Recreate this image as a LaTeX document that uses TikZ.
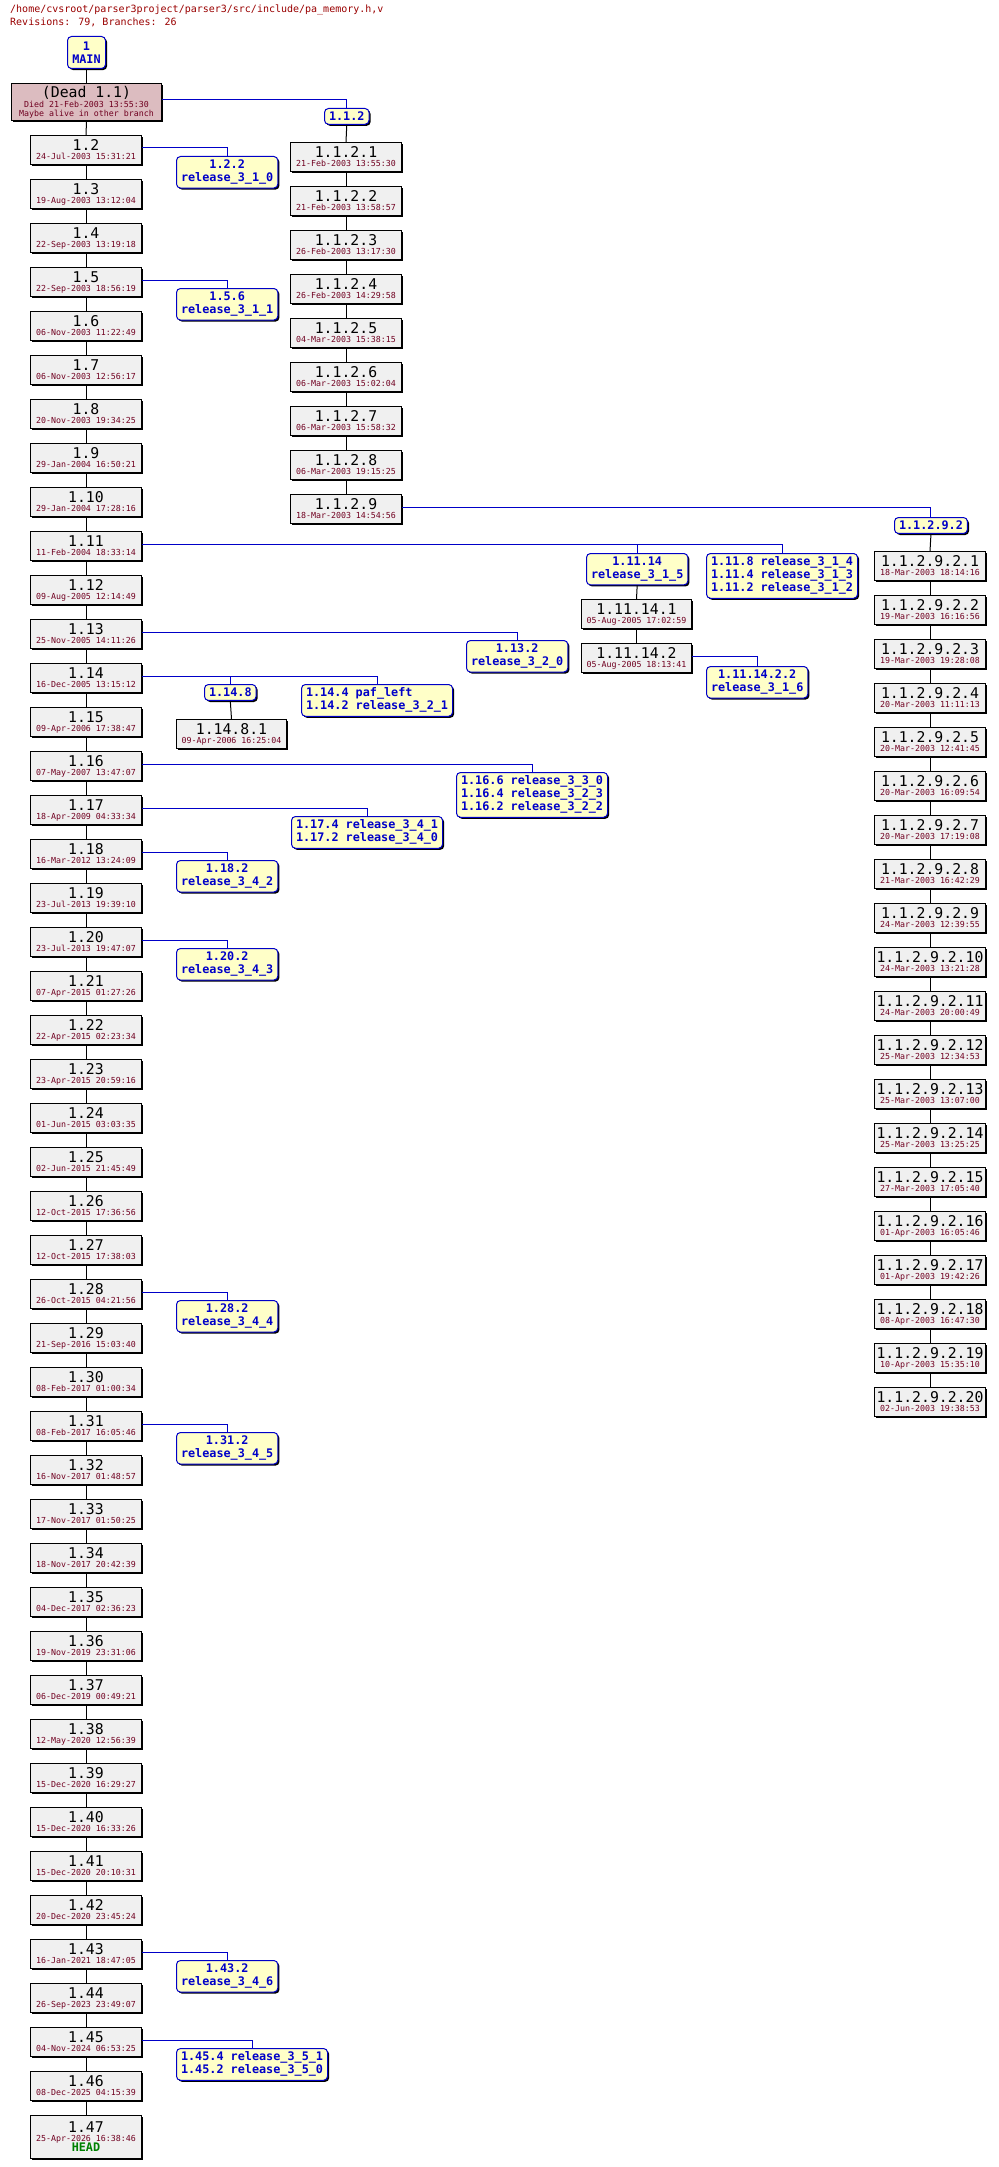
\documentclass[tikz,border=0pt]{standalone}
\usepackage{fontspec}
\setmainfont{DejaVu Sans Mono}
\usetikzlibrary{shadows}
\definecolor{datecol}{RGB}{112,0,32}
\definecolor{tagblue}{RGB}{0,0,200}
\definecolor{tagfill}{RGB}{255,255,200}
\definecolor{boxfill}{RGB}{240,240,240}
\definecolor{deadfill}{RGB}{220,188,192}
\definecolor{titlecol}{RGB}{153,0,0}
\definecolor{headcol}{RGB}{0,128,0}
\newcommand{\rnum}[1]{{\fontsize{14.8}{14}\selectfont #1}}
\newcommand{\rdate}[1]{{\fontsize{8.3}{9}\selectfont\color{datecol}#1}}
\tikzset{
  shd/.style={drop shadow={shadow xshift=1.6pt,shadow yshift=-1.6pt,fill=black,opacity=1}},
  revbox/.style={shd,draw=black,line width=1pt,fill=boxfill,minimum width=111pt,minimum height=29pt,inner sep=0pt,align=center,anchor=north west},
  tagbox/.style={shd,draw=tagblue,line width=1pt,fill=tagfill,text=tagblue,rounded corners=4pt,inner xsep=4.5pt,inner ysep=3.5pt,anchor=north west,align=center,font=\fontsize{11.8}{13}\selectfont\bfseries},
  tagleft/.style={tagbox,align=left},
  conn/.style={line width=1pt,draw=black},
  brl/.style={line width=1pt,draw=tagblue},
}
\begin{document}
\begin{tikzpicture}[x=1pt,y=-1pt]
\useasboundingbox (0,0) rectangle (998,2167);
\node[anchor=north west,inner sep=0pt,text=titlecol,font=\fontsize{10}{12.5}\selectfont,align=left] (title) at (10,5) {/home/cvsroot/parser3project/parser3/src/include/pa\_memory.h,v\\Revisions: 79, Branches: 26};
\node[tagbox,minimum width=38pt,minimum height=32pt,inner ysep=2pt] (main) at (67,36) {1\\MAIN};
\node[revbox,fill=deadfill,minimum width=150pt,minimum height=37pt] (dead) at (11,83) {\rnum{(Dead 1.1)}\\[-2pt]\rdate{Died 21-Feb-2003 13:55:30}\\[-3pt]\rdate{Maybe alive in other branch}};
\foreach \n/\d [count=\i from 2] in {
1.2/24-Jul-2003 15:31:21,1.3/19-Aug-2003 13:12:04,1.4/22-Sep-2003 13:19:18,1.5/22-Sep-2003 18:56:19,
1.6/06-Nov-2003 11:22:49,1.7/06-Nov-2003 12:56:17,1.8/20-Nov-2003 19:34:25,1.9/29-Jan-2004 16:50:21,
1.10/29-Jan-2004 17:28:16,1.11/11-Feb-2004 18:33:14,1.12/09-Aug-2005 12:14:49,1.13/25-Nov-2005 14:11:26,
1.14/16-Dec-2005 13:15:12,1.15/09-Apr-2006 17:38:47,1.16/07-May-2007 13:47:07,1.17/18-Apr-2009 04:33:34,
1.18/16-Mar-2012 13:24:09,1.19/23-Jul-2013 19:39:10,1.20/23-Jul-2013 19:47:07,1.21/07-Apr-2015 01:27:26,
1.22/22-Apr-2015 02:23:34,1.23/23-Apr-2015 20:59:16,1.24/01-Jun-2015 03:03:35,1.25/02-Jun-2015 21:45:49,
1.26/12-Oct-2015 17:36:56,1.27/12-Oct-2015 17:38:03,1.28/26-Oct-2015 04:21:56,1.29/21-Sep-2016 15:03:40,
1.30/08-Feb-2017 01:00:34,1.31/08-Feb-2017 16:05:46,1.32/16-Nov-2017 01:48:57,1.33/17-Nov-2017 01:50:25,
1.34/18-Nov-2017 20:42:39,1.35/04-Dec-2017 02:36:23,1.36/19-Nov-2019 23:31:06,1.37/06-Dec-2019 00:49:21,
1.38/12-May-2020 12:56:39,1.39/15-Dec-2020 16:29:27,1.40/15-Dec-2020 16:33:26,1.41/15-Dec-2020 20:10:31,
1.42/20-Dec-2020 23:45:24,1.43/16-Jan-2021 18:47:05,1.44/26-Sep-2023 23:49:07,1.45/04-Nov-2024 06:53:25,
1.46/08-Dec-2025 04:15:39}{
  \pgfmathtruncatemacro\yy{135+44*(\i-2)}
  \node[revbox] (m\i) at (30,\yy) {\rnum{\n}\\[-3pt]\rdate{\d}};
}
\node[revbox,minimum height=43pt] (m47) at (30,2115) {\rnum{1.47}\\[-3pt]\rdate{25-Apr-2026 16:38:46}\\[-2pt]{\fontsize{11.8}{12}\selectfont\bfseries\color{headcol}HEAD}};
\foreach \n/\d [count=\i from 1] in {
21-Feb-2003 13:55:30,21-Feb-2003 13:58:57,26-Feb-2003 13:17:30,26-Feb-2003 14:29:58,04-Mar-2003 15:38:15,
06-Mar-2003 15:02:04,06-Mar-2003 15:58:32,06-Mar-2003 19:15:25,18-Mar-2003 14:54:56}{
  \pgfmathtruncatemacro\yy{142+44*(\i-1)}
  \node[revbox] (b\i) at (290,\yy) {\rnum{1.1.2.\i}\\[-3pt]\rdate{\n}};
}
\foreach \n [count=\i from 1] in {
18-Mar-2003 18:14:16,19-Mar-2003 16:16:56,19-Mar-2003 19:28:08,20-Mar-2003 11:11:13,20-Mar-2003 12:41:45,
20-Mar-2003 16:09:54,20-Mar-2003 17:19:08,21-Mar-2003 16:42:29,24-Mar-2003 12:39:55,24-Mar-2003 13:21:28,
24-Mar-2003 20:00:49,25-Mar-2003 12:34:53,25-Mar-2003 13:07:00,25-Mar-2003 13:25:25,27-Mar-2003 17:05:40,
01-Apr-2003 16:05:46,01-Apr-2003 19:42:26,08-Apr-2003 16:47:30,10-Apr-2003 15:35:10,02-Jun-2003 19:38:53}{
  \pgfmathtruncatemacro\yy{551+44*(\i-1)}
  \node[revbox] (c\i) at (874,\yy) {\rnum{1.1.2.9.2.\i}\\[-3pt]\rdate{\n}};
}
\node[revbox,minimum width=110pt] (d1) at (581,599) {\rnum{1.11.14.1}\\[-3pt]\rdate{05-Aug-2005 17:02:59}};
\node[revbox,minimum width=110pt] (d2) at (581,643) {\rnum{1.11.14.2}\\[-3pt]\rdate{05-Aug-2005 18:13:41}};
\node[revbox,minimum width=110pt] (e1) at (176,719) {\rnum{1.14.8.1}\\[-3pt]\rdate{09-Apr-2006 16:25:04}};
% tags
\node[tagbox] (t112) at (324,108) {1.1.2};
\node[tagbox] (t11292) at (894,517) {1.1.2.9.2};
\node[tagbox] (t122) at (176,156) {1.2.2\\release\_3\_1\_0};
\node[tagbox] (t156) at (176,288) {1.5.6\\release\_3\_1\_1};
\node[tagbox] (t11114) at (586,553) {1.11.14\\release\_3\_1\_5};
\node[tagleft] (t1118) at (706,553) {1.11.8 release\_3\_1\_4\\1.11.4 release\_3\_1\_3\\1.11.2 release\_3\_1\_2};
\node[tagbox] (t111422) at (706,666) {1.11.14.2.2\\release\_3\_1\_6};
\node[tagbox] (t1132) at (466,640) {1.13.2\\release\_3\_2\_0};
\node[tagbox] (t1148) at (204,684) {1.14.8};
\node[tagleft] (t1144) at (301,684) {1.14.4 paf\_left\\1.14.2 release\_3\_2\_1};
\node[tagleft] (t1166) at (456,772) {1.16.6 release\_3\_3\_0\\1.16.4 release\_3\_2\_3\\1.16.2 release\_3\_2\_2};
\node[tagleft] (t1174) at (291,816) {1.17.4 release\_3\_4\_1\\1.17.2 release\_3\_4\_0};
\node[tagbox] (t1182) at (176,860) {1.18.2\\release\_3\_4\_2};
\node[tagbox] (t1202) at (176,948) {1.20.2\\release\_3\_4\_3};
\node[tagbox] (t1282) at (176,1300) {1.28.2\\release\_3\_4\_4};
\node[tagbox] (t1312) at (176,1432) {1.31.2\\release\_3\_4\_5};
\node[tagbox] (t1432) at (176,1960) {1.43.2\\release\_3\_4\_6};
\node[tagleft] (t1454) at (176,2048) {1.45.4 release\_3\_5\_1\\1.45.2 release\_3\_5\_0};
% trunk connectors
\draw[conn] (main.south) -- (dead.north);
\draw[conn] (dead.south) -- (m2.north);
\foreach \i in {2,...,46}{\pgfmathtruncatemacro\j{\i+1}\draw[conn] (m\i.south) -- (m\j.north);}
\draw[conn] (t112.south) -- (b1.north);
\foreach \i in {1,...,8}{\pgfmathtruncatemacro\j{\i+1}\draw[conn] (b\i.south) -- (b\j.north);}
\draw[conn] (t11292.south) -- (c1.north);
\foreach \i in {1,...,19}{\pgfmathtruncatemacro\j{\i+1}\draw[conn] (c\i.south) -- (c\j.north);}
\draw[conn] (t11114.south) -- (d1.north);
\draw[conn] (d1.south) -- (d2.north);
\draw[conn] (t1148.south) -- (e1.north);
% branch connectors
\draw[brl] ([yshift=-17pt]dead.north east) -| (t112.north);
\draw[brl] ([yshift=-13pt]b9.north east) -| (t11292.north);
\draw[brl] ([yshift=-13pt]m2.north east) -| (t122.north);
\draw[brl] ([yshift=-13pt]m5.north east) -| (t156.north);
\draw[brl] ([yshift=-13pt]m11.north east) -| (t11114.north);
\draw[brl] ([yshift=-13pt]m11.north east) -| (t1118.north);
\draw[brl] ([yshift=-13pt]d2.north east) -| (t111422.north);
\draw[brl] ([yshift=-13pt]m13.north east) -| (t1132.north);
\draw[brl] ([yshift=-13pt]m14.north east) -| (t1148.north);
\draw[brl] ([yshift=-13pt]m14.north east) -| (t1144.north);
\draw[brl] ([yshift=-13pt]m16.north east) -| (t1166.north);
\draw[brl] ([yshift=-13pt]m17.north east) -| (t1174.north);
\draw[brl] ([yshift=-13pt]m18.north east) -| (t1182.north);
\draw[brl] ([yshift=-13pt]m20.north east) -| (t1202.north);
\draw[brl] ([yshift=-13pt]m28.north east) -| (t1282.north);
\draw[brl] ([yshift=-13pt]m31.north east) -| (t1312.north);
\draw[brl] ([yshift=-13pt]m43.north east) -| (t1432.north);
\draw[brl] ([yshift=-13pt]m45.north east) -| (t1454.north);
\end{tikzpicture}
\end{document}
